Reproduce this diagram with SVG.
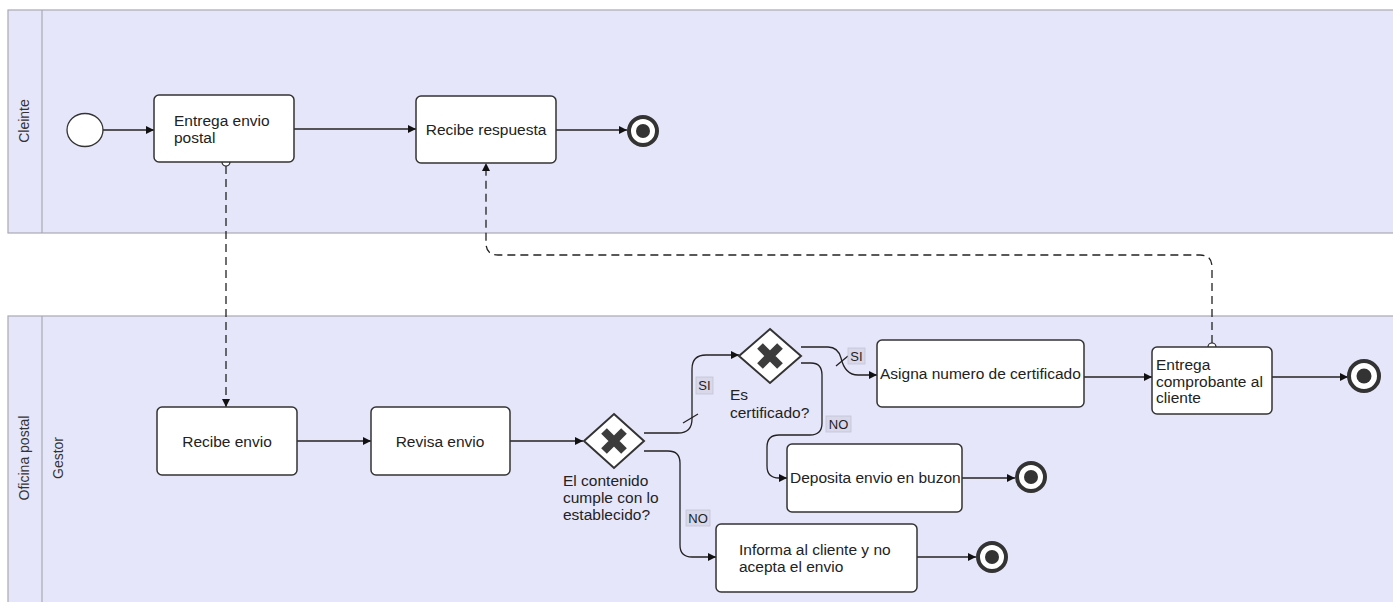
<svg xmlns="http://www.w3.org/2000/svg" width="1393" height="602" viewBox="0 0 1393 602">
<defs>
<style>
.pool{fill:#e6e6fa;stroke:#a8a8b4;stroke-width:1.2}
.div{stroke:#a8a8b4;stroke-width:1.2}
.task{fill:#ffffff;stroke:#333;stroke-width:1.5}
.t{font-family:"Liberation Sans",Arial,sans-serif;font-size:15.5px;fill:#222}
.lane{font-family:"Liberation Sans",Arial,sans-serif;font-size:14px;fill:#333}
.lbl{font-family:"Liberation Sans",Arial,sans-serif;font-size:13px;fill:#222}
.lblbox{fill:#d8d8ea;stroke:#c4c4d6;stroke-width:0.8}
.seq{fill:none;stroke:#222;stroke-width:1.3}
.msg{fill:none;stroke:#222;stroke-width:1.3;stroke-dasharray:8 5}
.gw{fill:#fff;stroke:#333;stroke-width:2}
.gx{stroke:#3c3c3c;stroke-width:8}
.endo{fill:#fff;stroke:#333;stroke-width:4}
.endi{fill:#333}
</style>
<marker id="arr" viewBox="0 0 10 10" refX="10" refY="5" markerWidth="9" markerHeight="8" markerUnits="userSpaceOnUse" orient="auto">
<path d="M0,0 L10,5 L0,10 z" fill="#111"/>
</marker>
</defs>

<g id="pool-cliente">
<rect class="pool" x="8" y="10" width="1400" height="223"/>
<line class="div" x1="42" y1="10" x2="42" y2="233"/>
<text class="lane" transform="translate(29,121) rotate(-90)" text-anchor="middle">Cleinte</text>
</g>
<g id="pool-oficina">
<rect class="pool" x="8" y="316" width="1400" height="300"/>
<line class="div" x1="42" y1="316" x2="42" y2="602"/>
<text class="lane" transform="translate(29,458) rotate(-90)" text-anchor="middle">Oficina postal</text>
<text class="lane" transform="translate(63,458) rotate(-90)" text-anchor="middle">Gestor</text>
</g>

<g id="connectors">
<line class="seq" x1="103" y1="130" x2="154" y2="130" marker-end="url(#arr)"/>
<line class="seq" x1="294" y1="129" x2="416" y2="129" marker-end="url(#arr)"/>
<line class="seq" x1="556" y1="130" x2="627" y2="130" marker-end="url(#arr)"/>
<line class="seq" x1="297" y1="441" x2="371" y2="441" marker-end="url(#arr)"/>
<line class="seq" x1="510" y1="441" x2="583" y2="441" marker-end="url(#arr)"/>
<path class="seq" d="M644,433 H678 Q692,433 692,419 V369 Q692,355 706,355 H739" marker-end="url(#arr)"/>
<line class="seq" x1="683" y1="423" x2="698" y2="414"/>
<path class="seq" d="M644,451 H668 Q680,451 680,463 V545 Q680,557 692,557 H716" marker-end="url(#arr)"/>
<path class="seq" d="M801,347 H828 Q838,347 841,358 Q845,375 858,375 H877" marker-end="url(#arr)"/>
<line class="seq" x1="836" y1="366" x2="848" y2="356"/>
<path class="seq" d="M801,363 H811 Q822,363 822,375 V423 Q822,435 810,435 H779 Q767,435 767,447 V466 Q767,478 779,478 H787" marker-end="url(#arr)"/>
<line class="seq" x1="1084" y1="377" x2="1152" y2="377" marker-end="url(#arr)"/>
<line class="seq" x1="1272" y1="377" x2="1348" y2="377" marker-end="url(#arr)"/>
<line class="seq" x1="962" y1="478" x2="1015" y2="478" marker-end="url(#arr)"/>
<line class="seq" x1="917" y1="557" x2="976" y2="557" marker-end="url(#arr)"/>
<path class="msg" d="M226,166 V407" marker-end="url(#arr)"/>
<circle cx="226" cy="162" r="4" fill="#fff" stroke="#222" stroke-width="1.2"/>
<path class="msg" d="M1212,343 V267 Q1212,255 1200,255 H498 Q486,255 486,243 V163" marker-end="url(#arr)"/>
<circle cx="1212" cy="347" r="4" fill="#fff" stroke="#222" stroke-width="1.2"/>
<rect class="lblbox" x="696" y="377" width="17" height="17"/>
<text class="lbl" x="704.5" y="390" text-anchor="middle">SI</text>
<rect class="lblbox" x="848" y="348" width="17" height="16"/>
<text class="lbl" x="856.5" y="361" text-anchor="middle">SI</text>
<rect class="lblbox" x="686" y="510" width="24" height="16"/>
<text class="lbl" x="698" y="523" text-anchor="middle">NO</text>
<rect class="lblbox" x="826" y="416" width="25" height="16"/>
<text class="lbl" x="838.5" y="429" text-anchor="middle">NO</text>
</g>

<g id="start">
<ellipse cx="85" cy="130" rx="18" ry="16.5" fill="#fff" stroke="#333" stroke-width="1.3"/>
</g>
<g id="task-entrega-envio">
<rect class="task" x="154" y="95" width="140" height="67" rx="5"/>
<text class="t" x="174" y="126">Entrega envio</text>
<text class="t" x="174" y="143">postal</text>
</g>
<g id="task-recibe-respuesta">
<rect class="task" x="416" y="96" width="140" height="67" rx="5"/>
<text class="t" x="486" y="135" text-anchor="middle">Recibe respuesta</text>
</g>
<g id="end-cliente">
<circle class="endo" cx="643" cy="131" r="14"/>
<circle class="endi" cx="643" cy="131" r="7"/>
</g>

<g id="task-recibe-envio">
<rect class="task" x="157" y="407" width="140" height="68" rx="5"/>
<text class="t" x="227" y="447" text-anchor="middle">Recibe envio</text>
</g>
<g id="task-revisa-envio">
<rect class="task" x="371" y="407" width="139" height="68" rx="5"/>
<text class="t" x="440" y="447" text-anchor="middle">Revisa envio</text>
</g>
<g id="gw-contenido">
<path class="gw" d="M614,414 L644,441 L614,468 L584,441 Z"/>
<path class="gx" d="M604,431 L624,451 M624,431 L604,451"/>
<text class="t" x="563" y="486">El contenido</text>
<text class="t" x="563" y="503">cumple con lo</text>
<text class="t" x="563" y="520">establecido?</text>
</g>
<g id="gw-certificado">
<path class="gw" d="M770,329 L801,356 L770,383 L739,356 Z"/>
<path class="gx" d="M760,346 L780,366 M780,346 L760,366"/>
<text class="t" x="730" y="400">Es</text>
<text class="t" x="730" y="418">certificado?</text>
</g>
<g id="task-asigna">
<rect class="task" x="877" y="340" width="207" height="67" rx="5"/>
<text class="t" x="880" y="379">Asigna numero de certificado</text>
</g>
<g id="task-entrega-comprobante">
<rect class="task" x="1152" y="347" width="120" height="67" rx="5"/>
<text class="t" x="1156" y="370">Entrega</text>
<text class="t" x="1156" y="387">comprobante al</text>
<text class="t" x="1156" y="403">cliente</text>
</g>
<g id="end-comprobante">
<circle class="endo" cx="1364" cy="376" r="15"/>
<circle class="endi" cx="1364" cy="376" r="7.5"/>
</g>
<g id="task-deposita">
<rect class="task" x="787" y="444" width="175" height="68" rx="5"/>
<text class="t" x="790" y="483">Deposita envio en buzon</text>
</g>
<g id="end-deposita">
<circle class="endo" cx="1031" cy="477" r="14"/>
<circle class="endi" cx="1031" cy="477" r="7"/>
</g>
<g id="task-informa">
<rect class="task" x="716" y="524" width="201" height="68" rx="5"/>
<text class="t" x="739" y="555">Informa al cliente y no</text>
<text class="t" x="739" y="572">acepta el envio</text>
</g>
<g id="end-informa">
<circle class="endo" cx="992" cy="557" r="14"/>
<circle class="endi" cx="992" cy="557" r="7"/>
</g>
</svg>
